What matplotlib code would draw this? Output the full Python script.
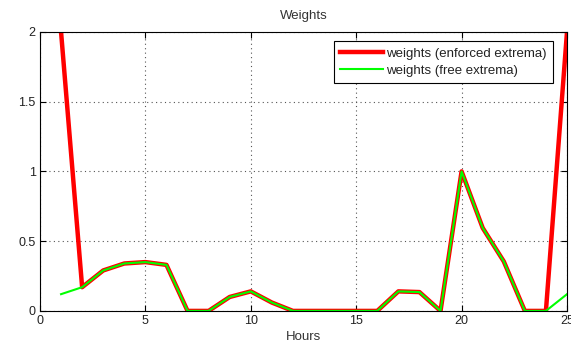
import numpy as np
import matplotlib
matplotlib.use('Agg')
import matplotlib.pyplot as plt

plt.rcParams['font.family'] = ['Liberation Sans', 'DejaVu Sans']
plt.rcParams['font.size'] = 9

# hours and the two weight series
hours = list(range(1, 26))
enforced = [2.0, 0.17, 0.29, 0.34, 0.35, 0.33, 0.0, 0.0, 0.10, 0.14, 0.06, 0.0, 0.0,
            0.0, 0.0, 0.0, 0.14, 0.135, 0.0, 1.0, 0.595, 0.355, 0.0, 0.0, 2.0]
free = [0.12, 0.17, 0.29, 0.34, 0.35, 0.33, 0.0, 0.0, 0.10, 0.14, 0.06, 0.0, 0.0,
        0.0, 0.0, 0.0, 0.14, 0.135, 0.0, 1.0, 0.595, 0.355, 0.0, 0.0, 0.12]

fig = plt.figure(figsize=(5.71, 3.47), dpi=100)
ax = fig.add_axes([0.070, 0.104, 0.923, 0.804])

ax.plot(hours, enforced, color='#ff0000', lw=3.2, label='weights (enforced extrema)')
ax.plot(hours, free, color='#00ff00', lw=1.5, label='weights (free extrema)')

ax.set_xlim(0, 25)
ax.set_ylim(0, 2)
ax.set_xticks([0, 5, 10, 15, 20, 25])
ax.set_yticks([0, 0.5, 1, 1.5, 2])
ax.set_yticklabels(['0', '0.5', '1', '1.5', '2'])
ax.grid(True, color='#555555', linestyle=(0, (1, 3)), linewidth=0.8)
ax.tick_params(direction='in', top=True, right=True, length=4, labelsize=9,
               pad=3, labelcolor='#222222')
for s in ax.spines.values():
    s.set_linewidth(0.8)

ax.set_title('Weights', fontsize=9.5, color='#333333', pad=9)
ax.set_xlabel('Hours', fontsize=9.5, color='#333333', labelpad=3)

leg = ax.legend(loc='upper right', bbox_to_anchor=(0.9734, 0.968), fontsize=9.5,
                fancybox=False, framealpha=1, edgecolor='black', borderaxespad=0,
                handlelength=3.2, handletextpad=0.25, borderpad=0.5,
                labelspacing=0.35)
leg.get_frame().set_linewidth(0.8)
for t in leg.get_texts():
    t.set_color('#222222')

fig.savefig('out.png', dpi=100)
